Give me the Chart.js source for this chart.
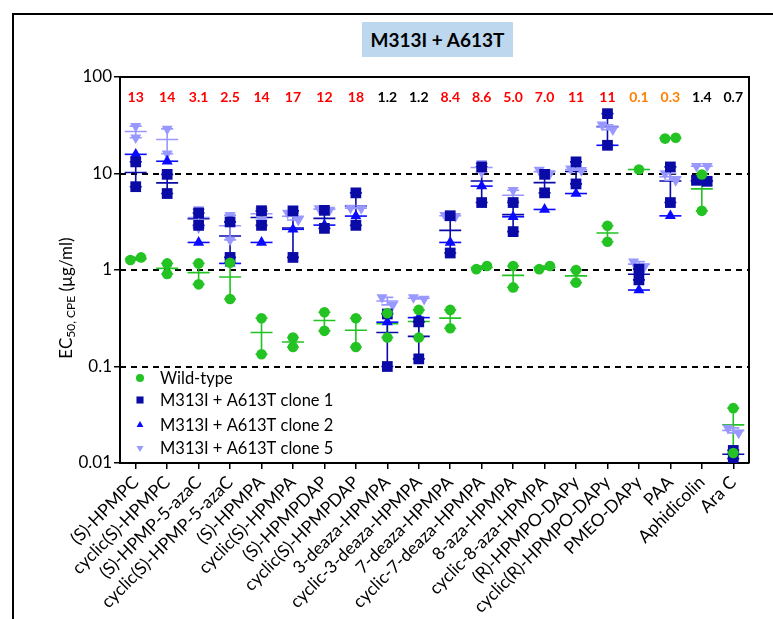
<!DOCTYPE html>
<html>
<head>
<meta charset="utf-8">
<script src="https://cdn.jsdelivr.net/npm/chart.js@4.4.1/dist/chart.umd.min.js"></script>
<style>
  html, body { margin: 0; padding: 0; background: #fff; overflow: hidden; }
  #wrap { position: relative; width: 773px; height: 619px; overflow: hidden; }
  #frame { position: absolute; left: 12px; top: 13px; width: 800px; height: 700px;
           border-top: 2px solid #000; border-left: 2px solid #000; }
  #title { position: absolute; left: 362px; top: 22px; width: 151px; height: 35px;
           background: #bdd7ee; font: bold 19px Lato, sans-serif; line-height: 35px;
           text-align: center; color: #000; }
  canvas { position: absolute; left: 0; top: 0; }
</style>
</head>
<body>
<div id="wrap">
  <div id="frame"></div>
  <div id="title">M313I + A613T</div>
  <canvas id="ecChart" width="773" height="619"></canvas>
</div>
<script>
// Compounds on the x axis
const categories = [
  "(S)-HPMPC", "cyclic(S)-HPMPC", "(S)-HPMP-5-azaC", "cyclic(S)-HPMP-5-azaC",
  "(S)-HPMPA", "cyclic(S)-HPMPA", "(S)-HPMPDAP", "cyclic(S)-HPMPDAP",
  "3-deaza-HPMPA", "cyclic-3-deaza-HPMPA", "7-deaza-HPMPA", "cyclic-7-deaza-HPMPA",
  "8-aza-HPMPA", "cyclic-8-aza-HPMPA", "(R)-HPMPO-DAPy", "cyclic(R)-HPMPO-DAPy",
  "PMEO-DAPy", "PAA", "Aphidicolin", "Ara C"
];

// Fold resistance printed above each compound
const foldChange = ["13", "14", "3.1", "2.5", "14", "17", "12", "18", "1.2", "1.2",
  "8.4", "8.6", "5.0", "7.0", "11", "11", "0.1", "0.3", "1.4", "0.7"];

// EC50 replicates (µg/ml), one list per compound
const wildType = [
  [1.27, 1.35], [1.17, 0.91], [1.17, 0.71], [1.19, 0.50], [0.316, 0.134],
  [0.159, 0.20], [0.365, 0.234], [0.316, 0.159], [0.356, 0.20], [0.386, 0.20],
  [0.386, 0.249], [1.02, 1.10], [1.10, 0.66], [1.02, 1.10], [1.0, 0.74],
  [2.87, 1.96], [11], [23, 23.5], [9.77, 4.1], [0.037, 0.0127]
];
const clone1 = [
  [13.2, 7.3], [9.8, 6.2], [3.9, 2.9], [3.15, 1.35], [4.1, 2.9],
  [4.1, 1.35], [4.15, 2.7], [6.3, 2.9], [0.35, 0.1], [0.29, 0.12],
  [3.65, 1.5], [11.7, 5.0], [5.0, 2.5], [9.8, 6.3], [13.2, 7.8],
  [41.7, 19.6], [1.02, 0.79], [11.7, 5.0], [8.5, 8.3], [0.0135, 0.0111]
];
const clone2 = [
  [15.8], [13.4], [1.93], [1.17], [1.93],
  [2.64], [2.92], [3.62], [0.288], [0.321],
  [1.93], [7.4], [3.56], [4.24], [6.2],
  [19.6], [0.62], [3.64], [8.4], []
];
const clone5 = [
  [31, 23.5], [29, 16], [4.25, 2.75], [3.7, 2.05], [4.35, 3.3],
  [3.9, 3.3], [4.35, 4.2], [4.4, 4.35], [0.52, 0.435], [0.52, 0.50],
  [3.7, 3.6], [12.7, 10.4], [6.7, 5.2], [10.9, 10.0], [11.2, 10.8],
  [32, 28.5], [1.22, 1.08], [10, 8.5], [11.9, 11.9], [0.0231, 0.0205]
];

const seriesNames = ["Wild-type", "M313I + A613T clone 1", "M313I + A613T clone 2", "M313I + A613T clone 5"];
const yTicks = [0.01, 0.1, 1, 10, 100];
const dashedAt = [0.1, 1, 10];

const FONT = "Lato, 'Open Sans', sans-serif";

// Spread replicates side by side when they would overlap
function toPoints(reps) {
  const pts = [];
  reps.forEach((vals, i) => {
    const spread = vals.length === 2 && Math.abs(Math.log10(vals[0] / vals[1])) < 0.08;
    vals.forEach((v, j) => {
      pts.push({ x: i + (spread ? (j ? 0.17 : -0.17) : 0), y: v });
    });
  });
  return pts;
}

function makeSet(label, reps, color, style, radius, rotation) {
  return {
    label: label,
    data: toPoints(reps),
    reps: reps,
    backgroundColor: color,
    borderColor: color,
    pointStyle: style,
    pointRadius: radius,
    pointRotation: rotation || 0,
    pointBorderWidth: 0,
    showLine: false
  };
}

const datasets = [
  makeSet(seriesNames[0], wildType, "#22c322", "circle", 5.3),
  makeSet(seriesNames[1], clone1, "#0a0aa6", "rect", 7.6),
  makeSet(seriesNames[2], clone2, "#0a0aff", "triangle", 6.4),
  makeSet(seriesNames[3], clone5, "#9898ff", "triangle", 6.4, 180)
];

// Custom drawing: dashed lines, mean/SEM bars, frame, fold numbers, legend, y title
const extrasPlugin = {
  id: "extras",
  beforeDatasetsDraw(chart) {
    const ctx = chart.ctx;
    const area = chart.chartArea;
    const xs = chart.scales.x;
    const ys = chart.scales.y;

    // dashed reference lines
    ctx.save();
    ctx.strokeStyle = "#000";
    ctx.lineWidth = 2;
    ctx.setLineDash([6, 5]);
    dashedAt.forEach((v) => {
      const y = Math.round(ys.getPixelForValue(v));
      ctx.beginPath();
      ctx.moveTo(area.left, y);
      ctx.lineTo(area.right, y);
      ctx.stroke();
    });
    ctx.restore();

    // mean and SEM for every series
    ctx.save();
    ctx.beginPath();
    ctx.rect(area.left, area.top, area.right - area.left, area.bottom - area.top);
    ctx.clip();
    ctx.lineWidth = 1.6;
    chart.data.datasets.forEach((ds) => {
      ctx.strokeStyle = ds.borderColor;
      ds.reps.forEach((vals, i) => {
        if (!vals.length) return;
        const n = vals.length;
        const mean = vals.reduce((a, b) => a + b, 0) / n;
        const sd = n > 1 ? Math.sqrt(vals.reduce((a, b) => a + (b - mean) * (b - mean), 0) / (n - 1)) : 0;
        const sem = sd / Math.sqrt(n);
        const cx = xs.getPixelForValue(i);
        const my = ys.getPixelForValue(mean);
        ctx.beginPath();
        ctx.moveTo(cx - 11, my);
        ctx.lineTo(cx + 11, my);
        if (sem > 0) {
          const top = ys.getPixelForValue(mean + sem);
          const low = mean - sem > 0 ? ys.getPixelForValue(mean - sem) : area.bottom + 10;
          ctx.moveTo(cx, top);
          ctx.lineTo(cx, low);
          ctx.moveTo(cx - 6, top);
          ctx.lineTo(cx + 6, top);
          ctx.moveTo(cx - 6, low);
          ctx.lineTo(cx + 6, low);
        }
        ctx.stroke();
      });
    });
    ctx.restore();
  },
  afterDraw(chart) {
    const ctx = chart.ctx;
    const area = chart.chartArea;
    const xs = chart.scales.x;

    // top and right edges of the plot
    ctx.save();
    ctx.strokeStyle = "#000";
    ctx.lineWidth = 2;
    ctx.beginPath();
    ctx.moveTo(area.left, area.top);
    ctx.lineTo(area.right, area.top);
    ctx.lineTo(area.right, area.bottom);
    ctx.stroke();

    // fold numbers
    ctx.font = "bold 14px " + FONT;
    ctx.textAlign = "center";
    ctx.textBaseline = "middle";
    foldChange.forEach((txt, i) => {
      const v = parseFloat(txt);
      ctx.fillStyle = v >= 2 ? "#ff0000" : (v < 0.5 ? "#ff8000" : "#000000");
      ctx.fillText(txt, xs.getPixelForValue(i), 97);
    });

    // legend inside the plot
    const rows = [378, 400, 425, 448];
    ctx.font = "16.5px " + FONT;
    ctx.textAlign = "left";
    chart.data.datasets.forEach((ds, i) => {
      ctx.fillStyle = ds.backgroundColor;
      ctx.strokeStyle = ds.borderColor;
      Chart.helpers.drawPoint(ctx, {
        pointStyle: ds.pointStyle,
        radius: ds.pointStyle === "rect" ? 5 : 4,
        rotation: ds.pointRotation,
        borderWidth: 0
      }, 140, rows[i]);
      ctx.fillStyle = "#000";
      ctx.fillText(ds.label, 160, rows[i] + 1);
    });

    // y axis title with subscript
    ctx.translate(67, 298);
    ctx.rotate(-Math.PI / 2);
    const big = "17px " + FONT;
    const small = "12px " + FONT;
    const parts = [["EC", big, 0], ["50, CPE", small, 4], [" (µg/ml)", big, 0]];
    let total = 0;
    parts.forEach((p) => { ctx.font = p[1]; total += ctx.measureText(p[0]).width; });
    let x = -total / 2;
    ctx.fillStyle = "#000";
    ctx.textBaseline = "middle";
    parts.forEach((p) => {
      ctx.font = p[1];
      ctx.fillText(p[0], x, p[2]);
      x += ctx.measureText(p[0]).width;
    });
    ctx.restore();
  }
};

const ctx = document.getElementById("ecChart").getContext("2d");
new Chart(ctx, {
  type: "scatter",
  data: { datasets: datasets },
  options: {
    responsive: false,
    animation: false,
    layout: { padding: { top: 77, right: 24, left: 0, bottom: 0 } },
    plugins: {
      legend: { display: false },
      tooltip: { enabled: false }
    },
    scales: {
      x: {
        type: "linear",
        min: -0.5,
        max: 19.5,
        afterBuildTicks: (scale) => {
          scale.ticks = categories.map((c, i) => ({ value: i }));
        },
        afterFit: (scale) => { scale.height = 156; },
        ticks: {
          autoSkip: false,
          minRotation: 45,
          maxRotation: 45,
          padding: 3,
          color: "#000",
          font: { family: FONT, size: 17.5 },
          callback: (v) => categories[v]
        },
        grid: { drawOnChartArea: false, tickLength: 6, color: "#000", lineWidth: 1.5 },
        border: { color: "#000", width: 2 }
      },
      y: {
        type: "logarithmic",
        min: 0.01,
        max: 100,
        afterBuildTicks: (scale) => {
          scale.ticks = yTicks.map((v) => ({ value: v }));
        },
        afterFit: (scale) => { scale.width = 120; },
        ticks: {
          padding: 2,
          color: "#000",
          font: { family: FONT, size: 17 },
          callback: (v) => String(v)
        },
        grid: { drawOnChartArea: false, tickLength: 6, color: "#000", lineWidth: 1.5 },
        border: { color: "#000", width: 2 }
      }
    }
  },
  plugins: [extrasPlugin]
});
</script>
</body>
</html>
